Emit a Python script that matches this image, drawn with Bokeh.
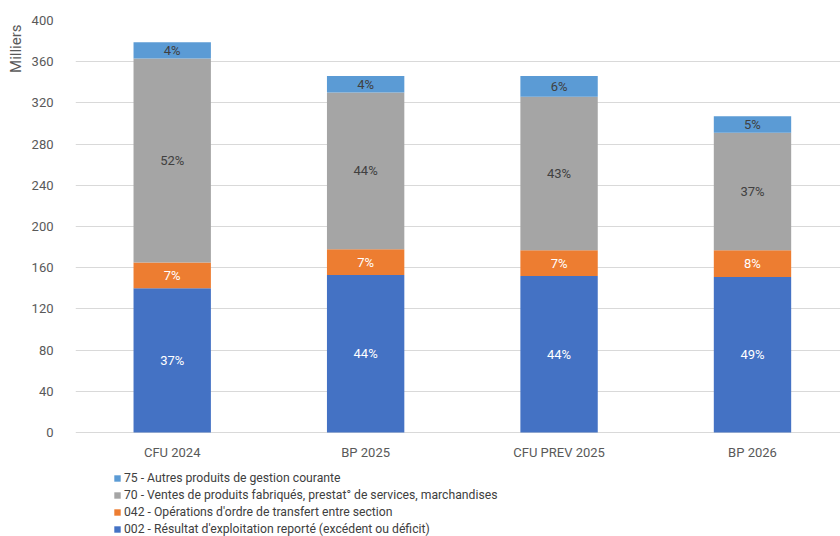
from bokeh.plotting import figure
from bokeh.models import ColumnDataSource, Legend, LegendItem, Range1d, FixedTicker, LabelSet, Title
from bokeh.core.properties import value
from bokeh.embed import file_html
from bokeh.resources import INLINE

categories = ["CFU 2024", "BP 2025", "CFU PREV 2025", "BP 2026"]
s002 = [140, 153, 152, 151]
s042 = [25, 25, 25, 26]
s70 = [198, 152, 149, 114]
s75 = [16, 16, 20, 16]
lab002 = ["37%", "44%", "44%", "49%"]
lab042 = ["7%", "7%", "7%", "8%"]
lab70 = ["52%", "44%", "43%", "37%"]
lab75 = ["4%", "4%", "6%", "5%"]
yticks = [0, 40, 80, 120, 160, 200, 240, 280, 320, 360, 400]

names = ["002 - Résultat d'exploitation reporté (excédent ou déficit)",
         "042 - Opérations d'ordre de transfert entre section",
         "70 - Ventes de produits fabriqués, prestat° de services, marchandises",
         "75 - Autres produits de gestion courante"]
colors = ["#4472C4", "#ED7D31", "#A5A5A5", "#5B9BD5"]
label_colors = ["#FFFFFF", "#FFFFFF", "#404040", "#404040"]
series = [s002, s042, s70, s75]
labels = [lab002, lab042, lab70, lab75]

FONT = "Roboto"
x = list(range(len(categories)))

# frame spans full height below the top border; the lower part hosts category labels and legend
PX_PER_UNIT = 412 / 400.0
y_low = -104 / PX_PER_UNIT

p = figure(width=840, height=536, output_backend="svg", x_axis_location=None,
           toolbar_location=None, x_range=Range1d(-0.5, 3.455), y_range=Range1d(y_low, 400),
           min_border_left=75, min_border_top=20, min_border_right=0, min_border_bottom=0)
p.outline_line_color = None
p.xgrid.grid_line_color = None
p.ygrid.grid_line_color = "#D9D9D9"
p.ygrid.grid_line_width = 1

p.yaxis.ticker = FixedTicker(ticks=yticks)
p.yaxis.axis_line_color = None
p.yaxis.major_tick_line_color = None
p.yaxis.minor_tick_line_color = None
p.yaxis.major_tick_out = 0
p.yaxis.major_label_text_font = FONT
p.yaxis.major_label_text_font_size = "13px"
p.yaxis.major_label_text_color = "#595959"
p.yaxis.major_label_standoff = 22

p.add_layout(Title(text="Milliers", align="right", offset=4, text_font=FONT,
                   text_font_size="15px", text_font_style="normal",
                   text_color="#595959", standoff=8), "left")

# category labels under the bars
cat_src = ColumnDataSource(dict(x=x, y=[0] * len(x), cat=categories))
p.add_layout(LabelSet(x="x", y="y", text="cat", source=cat_src, y_offset=-20,
                      text_align="center", text_baseline="middle",
                      text_font=value(FONT), text_font_size="13px", text_color="#595959"))

bottom = [0] * len(x)
items = []
for name, col, lc, vals, labs in zip(names, colors, label_colors, series, labels):
    top = [b + v for b, v in zip(bottom, vals)]
    mid = [(b + t) / 2 for b, t in zip(bottom, top)]
    src = ColumnDataSource(dict(x=x, bottom=bottom, top=top, mid=mid, lab=labs))
    r = p.vbar(x="x", bottom="bottom", top="top", width=0.40, source=src,
               fill_color=col, line_color=None)
    ls = LabelSet(x="x", y="mid", text="lab", source=src, text_align="center",
                  text_baseline="middle", text_font=value(FONT), text_font_size="13px",
                  text_color=lc)
    p.add_layout(ls)
    items.append(LegendItem(label=name, renderers=[r]))
    bottom = top

legend = Legend(items=list(reversed(items)), location=(38, -1), orientation="vertical",
                label_text_font=FONT, label_text_font_size="12.2px", label_text_color="#404040",
                glyph_width=8, glyph_height=8, label_height=17, spacing=0, padding=0,
                margin=0, border_line_color=None, background_fill_alpha=0,
                label_standoff=3)
p.add_layout(legend, "center")

open("out.html", "w").write(file_html(p, INLINE))
